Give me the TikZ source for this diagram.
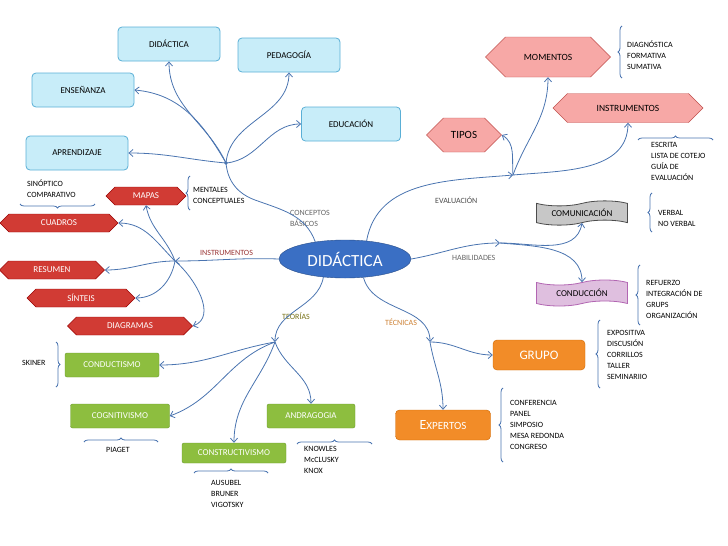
\documentclass[tikz,border=0pt]{standalone}
\usepackage{fontspec}
\setmainfont{Carlito}
\usetikzlibrary{shapes.symbols,shapes.geometric,arrows.meta,decorations.pathreplacing,calc}
\definecolor{linecol}{HTML}{4A74B0}
\definecolor{boxfill}{HTML}{C8EDF9}
\definecolor{boxdraw}{HTML}{5AAFD6}
\definecolor{redfill}{HTML}{D13B34}
\definecolor{pinkfill}{HTML}{F7A8A6}
\definecolor{pinkdraw}{HTML}{C0504D}
\definecolor{greenfill}{HTML}{8DBE3F}
\definecolor{greendraw}{HTML}{6A9A2D}
\definecolor{orangefill}{HTML}{F28C28}
\definecolor{mainfill}{HTML}{3A6FC4}
\begin{document}
\begin{tikzpicture}[
    x=1pt, y=1pt,
    concept/.style={rectangle, rounded corners=4pt, draw=boxdraw, fill=boxfill, thick, minimum width=102pt, minimum height=34pt, font=\fontsize{9}{10}\selectfont},
    tool/.style={signal, signal to=east and west, draw=red!60!black, fill=redfill, text=white, minimum height=18pt, inner sep=1pt, font=\fontsize{9}{10}\selectfont},
    evalbox/.style={signal, signal to=east and west, draw=pinkdraw, fill=pinkfill, minimum height=29pt, font=\fontsize{9.5}{10}\selectfont},
    skill/.style={tape, draw=black!70, thick, minimum width=91pt, minimum height=22pt, font=\fontsize{9}{10}\selectfont},
    theory/.style={rectangle, rounded corners=2pt, draw=greendraw, fill=greenfill, text=white, minimum height=24pt, font=\fontsize{9}{10}\selectfont},
    tech/.style={rectangle, rounded corners=4pt, draw=orange!80!black, fill=orangefill, text=white, minimum height=30pt},
    list/.style={anchor=west, align=left, inner sep=0pt, font=\fontsize{8}{11}\selectfont},
    label/.style={anchor=west, align=left, inner sep=0pt, font=\fontsize{8}{11}\selectfont},
    arrow/.style={-{Straight Barb[length=4pt,width=7pt]}, linecol, thick},
    link/.style={linecol, thick},
    brace/.style={decorate, decoration={brace, amplitude=4pt}, linecol, thick}
]
    \useasboundingbox (0,0) rectangle (728,-546);

    % Central node
    \node[ellipse, draw=mainfill!70!black, fill=mainfill, text=white, minimum width=132pt, minimum height=38pt, font=\fontsize{17}{18}\selectfont] (main) at (345,-259) {DIDÁCTICA};

    % Basic concepts
    \node[concept] (did) at (169,-44) {DIDÁCTICA};
    \node[concept] (ped) at (289,-55) {PEDAGOGÍA};
    \node[concept] (ens) at (83,-90) {ENSEÑANZA};
    \node[concept, minimum width=99pt] (edu) at (351,-124) {EDUCACIÓN};
    \node[concept] (apr) at (77,-153) {APRENDIZAJE};
    \coordinate (hcon) at (226,-163);
    \fill[linecol] (hcon) circle (1.8pt);
    \node[label, text=black!60] (lcon) at (290,-218) {CONCEPTOS\\BÁSICOS};

    \draw[link] (main.150) to[out=110,in=-20] (255,-200) to[out=160,in=-85] (hcon);
    \draw[arrow] (hcon) to[out=115,in=-90] (did.south);
    \draw[arrow] (hcon) to[out=85,in=-90] (ped.south);
    \draw[arrow] (hcon) to[out=5,in=180] (edu.west);
    \draw[arrow] (hcon) to[out=120,in=-5] (ens.east);
    \draw[arrow] (hcon) to[out=175,in=0] (apr.east);

    % Instruments
    \node[tool, minimum width=80pt] (mapas) at (146,-196) {MAPAS};
    \node[tool, minimum width=118pt] (cuad) at (59,-223) {CUADROS};
    \node[tool, minimum width=105pt] (res) at (52,-270) {RESUMEN};
    \node[tool, minimum width=108pt] (sint) at (81,-298) {SÍNTEIS};
    \node[tool, minimum width=125pt] (diag) at (130,-326) {DIAGRAMAS};
    \coordinate (hins) at (175,-261);
    \node[label, text=red!50!black!80] (lins) at (200,-253) {INSTRUMENTOS};
    \node[label] (lsin) at (27,-189) {SINÓPTICO\\COMPARATIVO};
    \node[label] (lmen) at (193,-195) {MENTALES\\CONCEPTUALES};
    \draw[brace] (95,-204) -- (20,-204);
    \draw[brace] (190,-210) -- (190,-176);

    \draw[arrow] (main.west) to[out=178,in=0] (hins);
    \draw[arrow] (hins) to[out=110,in=-80] (mapas.south);
    \draw[arrow] (hins) to[out=135,in=0] (cuad.east);
    \draw[arrow] (hins) to[out=180,in=0] (res.east);
    \draw[arrow] (hins) to[out=-100,in=0] (sint.east);
    \draw[arrow] (hins) to[out=-40,in=20] (diag.east);

    % Evaluation
    \node[evalbox, minimum width=125pt, minimum height=40pt] (mom) at (548,-57) {MOMENTOS};
    \node[evalbox, minimum width=150pt] (inst) at (628,-108) {INSTRUMENTOS};
    \node[evalbox, minimum width=75pt, minimum height=34pt, font=\fontsize{11}{12}\selectfont] (tipos) at (464,-135) {TIPOS};
    \coordinate (heva) at (513,-175);
    \node[label, text=black!70] (leva) at (435,-200) {EVALUACIÓN};
    \node[list] (lmom) at (627,-55) {DIAGNÓSTICA\\FORMATIVA\\SUMATIVA};
    \node[list] (lins2) at (651,-161) {ESCRITA\\LISTA DE COTEJO\\GUÍA DE\\EVALUACIÓN};
    \draw[brace] (622,-78) -- (622,-26);
    \draw[brace] (638,-140) -- (713,-140);

    \draw[arrow] (main.40) to[out=80,in=185] (heva);
    \draw[arrow] (heva) to[out=70,in=-90] (mom.south);
    \draw[arrow] (heva) to[out=5,in=-90] (inst.south);
    \draw[arrow] (heva) to[out=95,in=-30] (tipos.east);

    % Skills
    \node[skill, fill=black!22] (com) at (582,-213) {COMUNICACIÓN};
    \node[skill, fill=violet!25, draw=violet!60, minimum height=26pt] (cond) at (582,-293) {CONDUCCIÓN};
    \coordinate (hhab) at (500,-243);
    \node[label, text=black!60] (lhab) at (452,-258) {HABILIDADES};
    \node[list] (lcom) at (658,-218) {VERBAL\\NO VERBAL};
    \node[list] (lcond) at (646,-299) {REFUERZO\\INTEGRACIÓN DE\\GRUPS\\ORGANIZACIÓN};
    \draw[brace] (652,-232) -- (652,-193);
    \draw[brace] (640,-325) -- (640,-265);

    \draw[arrow] (main.east) to[out=10,in=180] (hhab);
    \draw[arrow] (hhab) to[out=0,in=-100] (com.south);
    \draw[arrow] (hhab) to[out=-5,in=90] (cond.north);

    % Techniques
    \node[tech, minimum width=92pt, font=\fontsize{13}{14}\selectfont] (grupo) at (539,-355) {GRUPO};
    \node[tech, minimum width=95pt, font=\fontsize{14}{15}\selectfont] (exp) at (443,-425) {E{\fontsize{11}{12}\selectfont XPERTOS}};
    \coordinate (htec) at (430,-342);
    \node[label, text=brown!80!orange] (ltec) at (385,-322) {TÉCNICAS};
    \node[list] (lgru) at (607,-355) {EXPOSITIVA\\DISCUSIÓN\\CORRILLOS\\TALLER\\SEMINARIIO};
    \node[list] (lexp) at (510,-425) {CONFERENCIA\\PANEL\\SIMPOSIO\\MESA REDONDA\\CONGRESO};
    \draw[brace] (600,-388) -- (600,-320);
    \draw[brace] (503,-462) -- (503,-388);

    \draw[arrow] (main.-45) to[out=-75,in=90] (htec);
    \draw[arrow] (htec) to[out=0,in=180] (grupo.west);
    \draw[arrow] (htec) to[out=-80,in=90] (exp.north);

    % Theories
    \node[theory, minimum width=94pt] (cdt) at (112,-365) {CONDUCTISMO};
    \node[theory, minimum width=99pt] (cog) at (120,-416) {COGNITIVISMO};
    \node[theory, minimum width=104pt, minimum height=20pt] (cst) at (234,-453) {CONSTRUCTIVISMO};
    \node[theory, minimum width=88pt] (and) at (311,-416) {ANDRAGOGIA};
    \coordinate (hteo) at (275,-342);
    \node[label, text=olive!80!black] (lteo) at (282,-316) {TEORÍAS};
    \node[label] (lski) at (22,-363) {SKINER};
    \node[label] (lpia) at (106,-450) {PIAGET};
    \node[list] (lcst) at (211,-494) {AUSUBEL\\BRUNER\\VIGOTSKY};
    \node[list] (land) at (304,-460) {KNOWLES\\McCLUSKY\\KNOX};
    \draw[brace] (56,-342) -- (56,-387);
    \draw[brace] (84,-442) -- (158,-442);
    \draw[brace] (194,-473) -- (268,-473);
    \draw[brace] (297,-444) -- (372,-444);

    \draw[arrow] (main.220) to[out=-100,in=90] (hteo);
    \draw[arrow] (hteo) to[out=190,in=0] (cdt.east);
    \draw[arrow] (hteo) to[out=-160,in=20] (cog.east);
    \draw[arrow] (hteo) to[out=-110,in=90] (cst.north);
    \draw[arrow] (hteo) to[out=-70,in=90] (and.north);
\end{tikzpicture}
\end{document}
